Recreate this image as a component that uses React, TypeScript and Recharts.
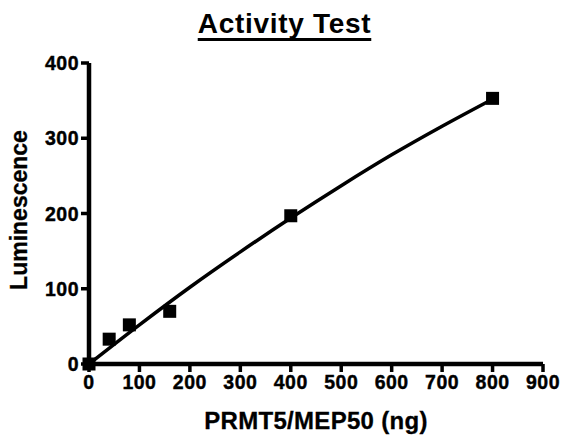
import React from 'react';
import { ComposedChart, Line, Scatter, XAxis, YAxis, Label } from 'recharts';

// measured points (ng, luminescence)
const doseNg = [0, 40, 80, 160, 400, 800];
const luminescence = [0, 33, 52, 70, 197, 353];

// fitted curve
const curveNg = [0, 100, 200, 300, 400, 500, 600, 700, 800];
const curveLum = [0, 52, 102, 149, 194, 237, 278, 316, 352];

const xTicks = [0, 100, 200, 300, 400, 500, 600, 700, 800, 900];
const yTicks = [0, 100, 200, 300, 400];

const points = doseNg.map((x, i) => ({ x, y: luminescence[i] }));
const curve = curveNg.map((x, i) => ({ x, y: curveLum[i] }));

const FONT = '"Liberation Sans", Arial, Helvetica, sans-serif';

const XTick = (props: any) => {
  const { x, y, payload } = props;
  return (
    <text x={x} y={y + 13} textAnchor="middle" fill="#000" stroke="#000" strokeWidth={0.4}
      fontSize={19.5} fontWeight={700} fontFamily={FONT} style={{ letterSpacing: '0.5px' }}>
      {payload.value}
    </text>
  );
};

const YTick = (props: any) => {
  const { x, y, payload } = props;
  return (
    <text x={x} y={y + 7} textAnchor="end" fill="#000" stroke="#000" strokeWidth={0.4}
      fontSize={19.5} fontWeight={700} fontFamily={FONT} style={{ letterSpacing: '0.5px' }}>
      {payload.value}
    </text>
  );
};

const SquareDot = (props: any) => {
  const { cx, cy } = props;
  if (cx == null || cy == null) return null;
  return <rect x={cx - 6.5} y={cy - 6.5} width={13} height={13} fill="#000" />;
};

const YTitle = () => (
  <text x={27} y={210} transform="rotate(-90 27 210)" textAnchor="middle" fill="#000" stroke="#000"
    strokeWidth={0.3} fontSize={23} fontWeight={700} fontFamily={FONT}>
    Luminescence
  </text>
);

const XTitle = () => (
  <text x={316} y={429} textAnchor="middle" fill="#000" stroke="#000" strokeWidth={0.3}
    fontSize={24} fontWeight={700} fontFamily={FONT} style={{ letterSpacing: '0.3px' }}>
    PRMT5/MEP50 (ng)
  </text>
);

export default function App() {
  return (
    <div style={{ position: 'absolute', left: 0, top: 0, width: 563, height: 436, background: '#fff' }}>
      <div
        style={{
          position: 'absolute',
          top: 8,
          left: 0,
          width: 569,
          textAlign: 'center',
          fontFamily: FONT,
          fontWeight: 700,
          fontSize: 28,
          lineHeight: '32px',
          letterSpacing: 0.7,
          textDecoration: 'underline',
          textDecorationThickness: '3px',
          textUnderlineOffset: '5px',
          textDecorationSkipInk: 'none',
          color: '#000',
        }}
      >
        Activity Test
      </div>
      <ComposedChart width={563} height={436} margin={{ top: 63, right: 20, bottom: 0, left: 0 }}>
        <XAxis
          type="number"
          dataKey="x"
          domain={[0, 900]}
          ticks={xTicks}
          interval={0}
          height={72}
          tickSize={8}
          tickMargin={4}
          tick={<XTick />}
          axisLine={{ stroke: '#000', strokeWidth: 4.5 }}
          tickLine={{ stroke: '#000', strokeWidth: 3.5 }}
        >
          <Label content={<XTitle />} />
        </XAxis>
        <YAxis
          type="number"
          dataKey="y"
          domain={[0, 400]}
          ticks={yTicks}
          interval={0}
          width={89}
          tickSize={8}
          tickMargin={2}
          tick={<YTick />}
          axisLine={{ stroke: '#000', strokeWidth: 4.5 }}
          tickLine={{ stroke: '#000', strokeWidth: 3.5 }}
        >
          <Label content={<YTitle />} />
        </YAxis>
        <Line
          data={curve}
          dataKey="y"
          type="monotone"
          stroke="#000"
          strokeWidth={3.5}
          dot={false}
          activeDot={false}
          isAnimationActive={false}
        />
        <Scatter data={points} dataKey="y" shape={<SquareDot />} isAnimationActive={false} />
      </ComposedChart>
    </div>
  );
}
